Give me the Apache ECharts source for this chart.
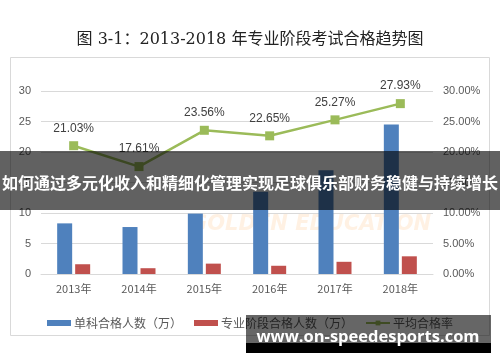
<!DOCTYPE html>
<html><head><meta charset="utf-8">
<script src="https://cdn.jsdelivr.net/npm/echarts@6/dist/echarts.min.js"></script>
<style>html,body{margin:0;padding:0;background:#fff}#c{width:500px;height:362px}</style>
</head><body><div id="c"></div>
<script>
var categories = ['2013年','2014年','2015年','2016年','2017年','2018年'];
var singlePass = [8.3, 7.7, 9.9, 13.5, 17.0, 24.5];
var stagePass = [1.6, 0.95, 1.7, 1.35, 2.0, 2.9];
var avgRate = [21.03, 17.61, 23.56, 22.65, 25.27, 27.93];
var leftTicks = [0, 30, 5];
var rightTicks = [0, 30, 5];

var chart = echarts.init(document.getElementById('c'));
var cjk = '"Noto Sans CJK SC", "DejaVu Sans", sans-serif';
chart.setOption({
  animation: false,
  backgroundColor: '#fff',
  title: {
    text: '图 3-1：2013-2018 年专业阶段考试合格趋势图',
    left: 'center', top: 27,
    textStyle: {fontSize: 16, fontWeight: 'normal', color: '#222', fontFamily: '"DejaVu Serif", "Noto Sans CJK SC", serif'}
  },
  grid: {left: 41, right: 67, top: 91, bottom: 88},
  legend: {
    left: 'center', top: 312, itemWidth: 24, itemHeight: 6, itemGap: 12,
    textStyle: {fontSize: 12, color: '#595959', fontFamily: cjk, padding: [0, 0, 0, -2]},
    data: [
      {name: '单科合格人数（万）', icon: 'rect'},
      {name: '专业阶段合格人数（万）', icon: 'rect'},
      {name: '平均合格率'}
    ]
  },
  xAxis: {
    type: 'category', data: categories,
    axisLine: {lineStyle: {color: '#d9d9d9'}}, axisTick: {show: false},
    axisLabel: {fontSize: 11, color: '#595959', margin: 9, fontFamily: cjk}
  },
  yAxis: [
    {type: 'value', min: leftTicks[0], max: leftTicks[1], interval: leftTicks[2],
     axisLine: {show: false}, axisTick: {show: false},
     splitLine: {lineStyle: {color: '#d9d9d9'}},
     axisLabel: {fontSize: 11, color: '#595959', margin: 10}},
    {type: 'value', min: rightTicks[0], max: rightTicks[1], interval: rightTicks[2],
     axisLine: {show: false}, axisTick: {show: false}, splitLine: {show: false},
     axisLabel: {fontSize: 11, color: '#595959', margin: 10, formatter: function(v){return v.toFixed(2)+'%';}}}
  ],
  series: [
    {name: '单科合格人数（万）', type: 'bar', data: singlePass, barWidth: 15, barGap: '20%',
     itemStyle: {color: '#4f81bd'}},
    {name: '专业阶段合格人数（万）', type: 'bar', data: stagePass, barWidth: 15,
     itemStyle: {color: '#c0504d'}},
    {name: '平均合格率', type: 'line', yAxisIndex: 1, data: avgRate,
     symbol: 'rect', symbolSize: 9,
     lineStyle: {color: '#9bbb59', width: 2.5}, itemStyle: {color: '#9bbb59'},
     label: {show: true, position: 'top', distance: 7, fontSize: 12, color: '#404040',
       formatter: function(p){return p.value.toFixed(2)+'%';}}}
  ],
  graphic: [
    {type: 'rect', shape: {x: 10.5, y: 57.5, width: 479, height: 278}, style: {fill: 'none', stroke: '#d9d9d9', lineWidth: 1}, z: -1},
    {type: 'text', x: 190, y: 225, style: {text: 'GOLDEN EDUCATION', font: 'italic bold 21px "DejaVu Sans"', fill: 'rgba(255,170,80,0.16)', verticalAlign: 'middle'}, z: 1},
    {type: 'rect', shape: {x: 0, y: 151, width: 500, height: 59}, style: {fill: 'rgba(0,0,0,0.62)'}, z: 100},
    {type: 'text', x: 250, y: 183, style: {text: '如何通过多元化收入和精细化管理实现足球俱乐部财务稳健与持续增长', font: 'bold 16px "Noto Sans CJK SC"', fill: '#fff', align: 'center', verticalAlign: 'middle'}, z: 101},
    {type: 'rect', shape: {x: 246, y: 315, width: 245, height: 28}, style: {fill: 'rgba(0,0,0,0.6)'}, z: 100},
    {type: 'rect', shape: {x: 246, y: 343, width: 245, height: 10}, style: {fill: '#000'}, z: 100},
    {type: 'text', x: 368, y: 337, style: {text: 'www.on-speedesports.com', font: 'bold 16.5px "Open Sans"', fill: '#fff', align: 'center', verticalAlign: 'middle'}, z: 101}
  ]
});
</script></body></html>
